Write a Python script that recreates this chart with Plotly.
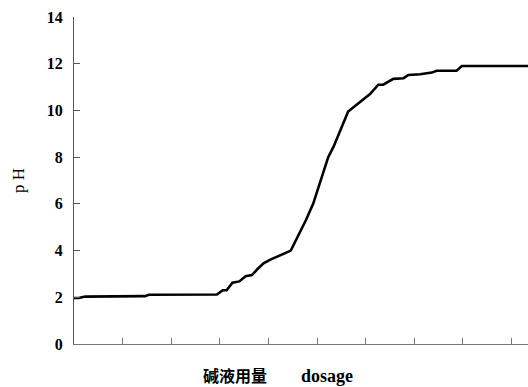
import plotly.graph_objects as go

# dosage (in tick units) and pH
dosage = [0.0, 0.10, 0.23, 1.46, 1.54, 2.94, 3.06, 3.14, 3.26, 3.40, 3.53, 3.66,
          3.77, 3.90, 4.03, 4.27, 4.46, 4.77, 4.92, 5.23, 5.34, 5.64, 5.85, 6.09,
          6.26, 6.36, 6.57, 6.78, 6.88, 7.12, 7.36, 7.46, 7.87, 7.98, 9.34]
ph = [1.97, 1.97, 2.03, 2.05, 2.11, 2.12, 2.30, 2.30, 2.62, 2.68, 2.90, 2.95,
      3.20, 3.45, 3.60, 3.81, 4.00, 5.30, 6.00, 8.00, 8.45, 9.95, 10.30, 10.70,
      11.10, 11.10, 11.35, 11.38, 11.52, 11.55, 11.62, 11.70, 11.70, 11.90, 11.90]

y_ticks = [0, 2, 4, 6, 8, 10, 12, 14]

W, H = 528, 387
L, R, T, B = 74, 0, 17, 43

fig = go.Figure()
fig.add_trace(go.Scatter(x=dosage, y=ph, mode="lines",
                         line=dict(color="black", width=2.6), showlegend=False,
                         hoverinfo="skip"))

serif = "Liberation Serif, Times New Roman, serif"

fig.update_layout(
    width=W, height=H,
    margin=dict(l=L, r=R, t=T, b=B, pad=0, autoexpand=False),
    paper_bgcolor="white", plot_bgcolor="white",
    xaxis=dict(range=[0, 9.34], showgrid=False, zeroline=False,
               showline=True, linecolor="#777777", linewidth=1.3,
               ticks="inside", ticklen=6, tickwidth=1.2, tickcolor="#777777",
               tick0=0, dtick=1, showticklabels=False, automargin=False),
    yaxis=dict(range=[0, 14], showgrid=False, zeroline=False, automargin=False,
               showline=True, linecolor="#555555", linewidth=1.3,
               ticks="inside", ticklen=6, tickwidth=1.2, tickcolor="#555555",
               tickmode="array", tickvals=y_ticks, ticktext=[str(v) for v in y_ticks],
               tickfont=dict(family=serif, size=16, color="black", weight="bold"),
               ticklabelstandoff=7,
               title=dict(text="p H", font=dict(family=serif, size=17, color="black"),
                          standoff=17)),
)

plot_w = W - L - R
plot_h = H - T - B
def px_x(p):
    return (p - L) / plot_w
def px_y(p):
    return (H - B - p) / plot_h

fig.add_annotation(text="碱液用量", x=px_x(234.5), y=px_y(374.5), xref="paper", yref="paper",
                   showarrow=False, xanchor="center", yanchor="middle",
                   font=dict(family="Noto Sans CJK SC", size=16, color="black", weight="bold"))
fig.add_annotation(text="dosage", x=px_x(327), y=px_y(375.5), xref="paper", yref="paper",
                   showarrow=False, xanchor="center", yanchor="middle",
                   font=dict(family=serif, size=18, color="black", weight="bold"))

fig.write_html("out.html", config={"displayModeBar": False},
               post_script="document.body.style.margin='0';document.body.style.overflow='hidden';")
